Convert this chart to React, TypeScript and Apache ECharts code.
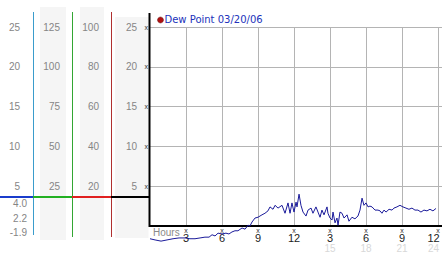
import React, { useEffect, useRef } from 'react';
import * as echarts from 'echarts';

// ---- data ----
const seriesName = 'Dew Point 03/20/06';
const hours = [
  0, 0.42, 0.92, 1.42, 1.92, 2.42, 2.92, 3.33, 3.75, 4.17, 4.58, 4.92, 5.17, 5.42, 5.67, 6.0,
  6.33, 6.58, 6.83, 7.08, 7.33, 7.67, 7.92, 8.17, 8.33, 8.5, 8.75, 9.0, 9.33, 9.58, 9.83, 10.0,
  10.25, 10.42, 10.67, 11.0, 11.25, 11.5, 11.67, 11.83, 12.0, 12.17, 12.25, 12.42, 12.58, 12.75,
  13.0, 13.17, 13.42, 13.58, 13.83, 14.0, 14.17, 14.33, 14.5, 14.75, 14.83, 15.0, 15.17, 15.25,
  15.42, 15.58, 15.67, 15.83, 16.0, 16.17, 16.42, 16.58, 16.83, 17.08, 17.33, 17.5, 17.67, 17.83,
  18.0, 18.17, 18.33, 18.5, 18.75, 19.0, 19.17, 19.33, 19.5, 19.67, 19.92, 20.17, 20.33, 20.58,
  20.83, 21.08, 21.33, 21.58, 21.83, 22.08, 22.33, 22.58, 22.83, 23.08, 23.33, 23.58, 23.83,
];
const dewPoint = [
  -1.6, -1.75, -1.9, -1.75, -1.6, -1.5, -1.5, -1.6, -1.6, -1.5, -1.4, -1.4, -1.1, -1.25, -0.9, -1.0,
  -0.9, -1.0, -0.75, -0.6, -0.6, -0.25, -0.4, 0.1, 0, 0.5, 1.0, 1.1, 1.4, 1.6, 1.9, 2.4,
  2.1, 2.6, 2.25, 2.6, 1.6, 2.9, 1.6, 2.9, 1.75, 3.0, 2.4, 4.0, 2.6, 1.75,
  1.25, 2.0, 2.25, 1.6, 2.4, 1.75, 1.1, 2.0, 1.4, 2.4, 1.6, 1.0, 0.75, 1.75,
  0.4, 1.0, 0.1, 1.75, 1.6, 1.0, 1.4, 0.6, 1.1, 0.9, 1.25, 2.0, 3.5, 2.6,
  2.9, 2.4, 2.5, 2.4, 2.0, 2.0, 1.9, 1.6, 2.0, 1.75, 2.1, 2.0, 2.25, 2.4,
  2.6, 2.4, 2.25, 2.1, 2.25, 2.0, 2.0, 1.75, 2.0, 1.9, 2.1, 1.9, 2.2,
];
const xPrimaryLabels = ['', '3', '6', '9', '12', '3', '6', '9', '12'];
const xSecondaryLabels = ['', '', '', '', '', '15', '18', '21', '24'];
const col1Ticks = [5, 10, 15, 20, 25];
const col2Ticks = [25, 50, 75, 100, 125];
const col3Ticks = [20, 40, 60, 80, 100];
const col4Ticks = [5, 10, 15, 20, 25];

const LABEL_GRAY = '#858585';

function colAxis(ticks: number[], offset: number, margin: number) {
  return {
    type: 'value',
    gridIndex: 0,
    position: 'left',
    offset,
    min: 0,
    max: ticks[ticks.length - 1],
    interval: ticks[1] - ticks[0],
    axisLine: { show: false },
    axisTick: { show: false },
    splitLine: { show: false },
    axisLabel: {
      margin,
      color: LABEL_GRAY,
      fontFamily: 'Liberation Sans, Arial, sans-serif',
      fontSize: 10,
      align: 'right',
      formatter: (v: number) => (ticks.indexOf(v) >= 0 ? String(v) : ''),
    },
  };
}

export default function App() {
  const ref = useRef<HTMLDivElement>(null);
  useEffect(() => {
    if (!ref.current) return;
    const chart = echarts.init(ref.current, undefined, { renderer: 'svg' });
    const maxV = Math.max(...dewPoint);
    const minV = Math.min(...dewPoint);
    const lastV = dewPoint[dewPoint.length - 1];
    const seg = (x1: number, y1: number, x2: number, y2: number, stroke: string, w: number) => ({
      type: 'line',
      silent: true,
      z: 10,
      shape: { x1, y1, x2, y2 },
      style: { stroke, lineWidth: w },
    });
    const stripe = (x: number, y: number, width: number, height: number) => ({
      type: 'rect',
      silent: true,
      z: -10,
      shape: { x, y, width, height },
      style: { fill: '#f5f5f5' },
    });
    const txt = (x: number, y: number, text: string, fill: string, font: string, align: string) => ({
      type: 'text',
      silent: true,
      z: 20,
      x,
      y,
      style: { text, fill, font, align, verticalAlign: 'middle' },
    });
    const lastIdx = xPrimaryLabels.length - 1;
    const FF = 'Liberation Sans, Arial';
    chart.setOption({
      animation: false,
      backgroundColor: '#ffffff',
      grid: {
        left: 150,
        right: 0,
        top: 27,
        bottom: 27,
        containLabel: false,
        outerBoundsMode: 'none',
      },
      xAxis: {
        type: 'value',
        min: 0,
        max: 73 / 3,
        interval: 3,
        axisLine: { show: true, onZero: false, lineStyle: { color: '#000', width: 2 } },
        axisTick: { show: false },
        splitLine: {
          show: true,
          showMinLine: false,
          showMaxLine: false,
          lineStyle: { color: '#b4b4b4', width: 1 },
        },
        axisLabel: {
          interval: 0,
          margin: 1,
          showMinLabel: true,
          showMaxLabel: false,
          formatter: (v: number) => {
            const i = Math.round(v / 3);
            if (Math.abs(i * 3 - v) > 1e-6 || i <= 0 || i >= xPrimaryLabels.length) return '';
            const s = xSecondaryLabels[i] || ' ';
            const k = i === lastIdx ? '2' : '';
            return `{m${k}|x}\n{v${k}|${xPrimaryLabels[i]}}\n{s${k}|${s}}`;
          },
          rich: {
            m: { fontSize: 7, lineHeight: 6, color: '#333', fontFamily: FF },
            v: { fontSize: 11, lineHeight: 10, color: '#222', fontFamily: FF },
            s: { fontSize: 10, lineHeight: 11, color: '#d8d8d8', fontFamily: FF },
            m2: { fontSize: 7, lineHeight: 6, color: '#333', fontFamily: FF },
            v2: { fontSize: 11, lineHeight: 10, color: '#222', fontFamily: FF, padding: [0, 9, 0, 0] },
            s2: { fontSize: 10, lineHeight: 11, color: '#d8d8d8', fontFamily: FF, padding: [0, 9, 0, 0] },
          },
        },
      },
      yAxis: [
        {
          type: 'value',
          min: 0,
          max: col4Ticks[col4Ticks.length - 1],
          interval: col4Ticks[1] - col4Ticks[0],
          axisLine: { show: false },
          axisTick: { show: false },
          splitLine: {
            show: true,
            showMinLine: false,
            lineStyle: { color: '#b4b4b4', width: 1 },
          },
          axisLabel: {
            margin: 2,
            color: '#333',
            fontSize: 7,
            fontFamily: FF,
            formatter: (v: number) => (v === 0 ? '' : 'x'),
          },
        },
        colAxis(col4Ticks, 0, 13),
        colAxis(col3Ticks, 51, 0),
        colAxis(col2Ticks, 90, 0),
        colAxis(col1Ticks, 130, 0),
      ],
      series: [
        {
          name: seriesName,
          type: 'line',
          xAxisIndex: 0,
          yAxisIndex: 0,
          data: hours.map((h, i) => [h, dewPoint[i]]),
          symbol: 'none',
          showSymbol: false,
          clip: false,
          z: 5,
          lineStyle: { color: '#1a1a9a', width: 1 },
        },
      ],
      graphic: [
        stripe(40, 7, 26, 233),
        stripe(80, 7, 24, 233),
        stripe(115, 17, 33.5, 221),
        seg(33.5, 12, 33.5, 235, '#3a9ccc', 1),
        seg(72.5, 12, 72.5, 237, '#33a633', 1),
        seg(111.5, 12, 111.5, 237, '#b03030', 1),
        seg(0, 197, 33, 197, '#1a3ccc', 2),
        seg(33, 197, 72, 197, '#22b022', 2),
        seg(72, 197, 111, 197, '#e02020', 2),
        seg(111, 197, 149, 197, '#000000', 2),
        seg(149.5, 13, 149.5, 227, '#000000', 2),
        txt(27, 203.5, maxV.toFixed(1), LABEL_GRAY, '10px "Liberation Sans", Arial', 'right'),
        txt(27, 218, lastV.toFixed(1), LABEL_GRAY, '10px "Liberation Sans", Arial', 'right'),
        txt(27, 232.5, minV.toFixed(1), LABEL_GRAY, '10px "Liberation Sans", Arial', 'right'),
        txt(153, 232, 'Hours', '#8a8a8a', '10px "Liberation Sans", Arial', 'left'),
        {
          type: 'circle',
          silent: true,
          z: 20,
          shape: { cx: 160.5, cy: 20, r: 3 },
          style: { fill: '#b01010', stroke: '#601010', lineWidth: 0.5 },
        },
        txt(164.5, 19.5, seriesName, '#2233bb', '10px "DejaVu Sans"', 'left'),
      ],
    });
    return () => chart.dispose();
  }, []);
  return (
    <div
      ref={ref}
      style={{ position: 'fixed', left: 0, top: 0, width: 442, height: 253, background: '#fff' }}
    />
  );
}
